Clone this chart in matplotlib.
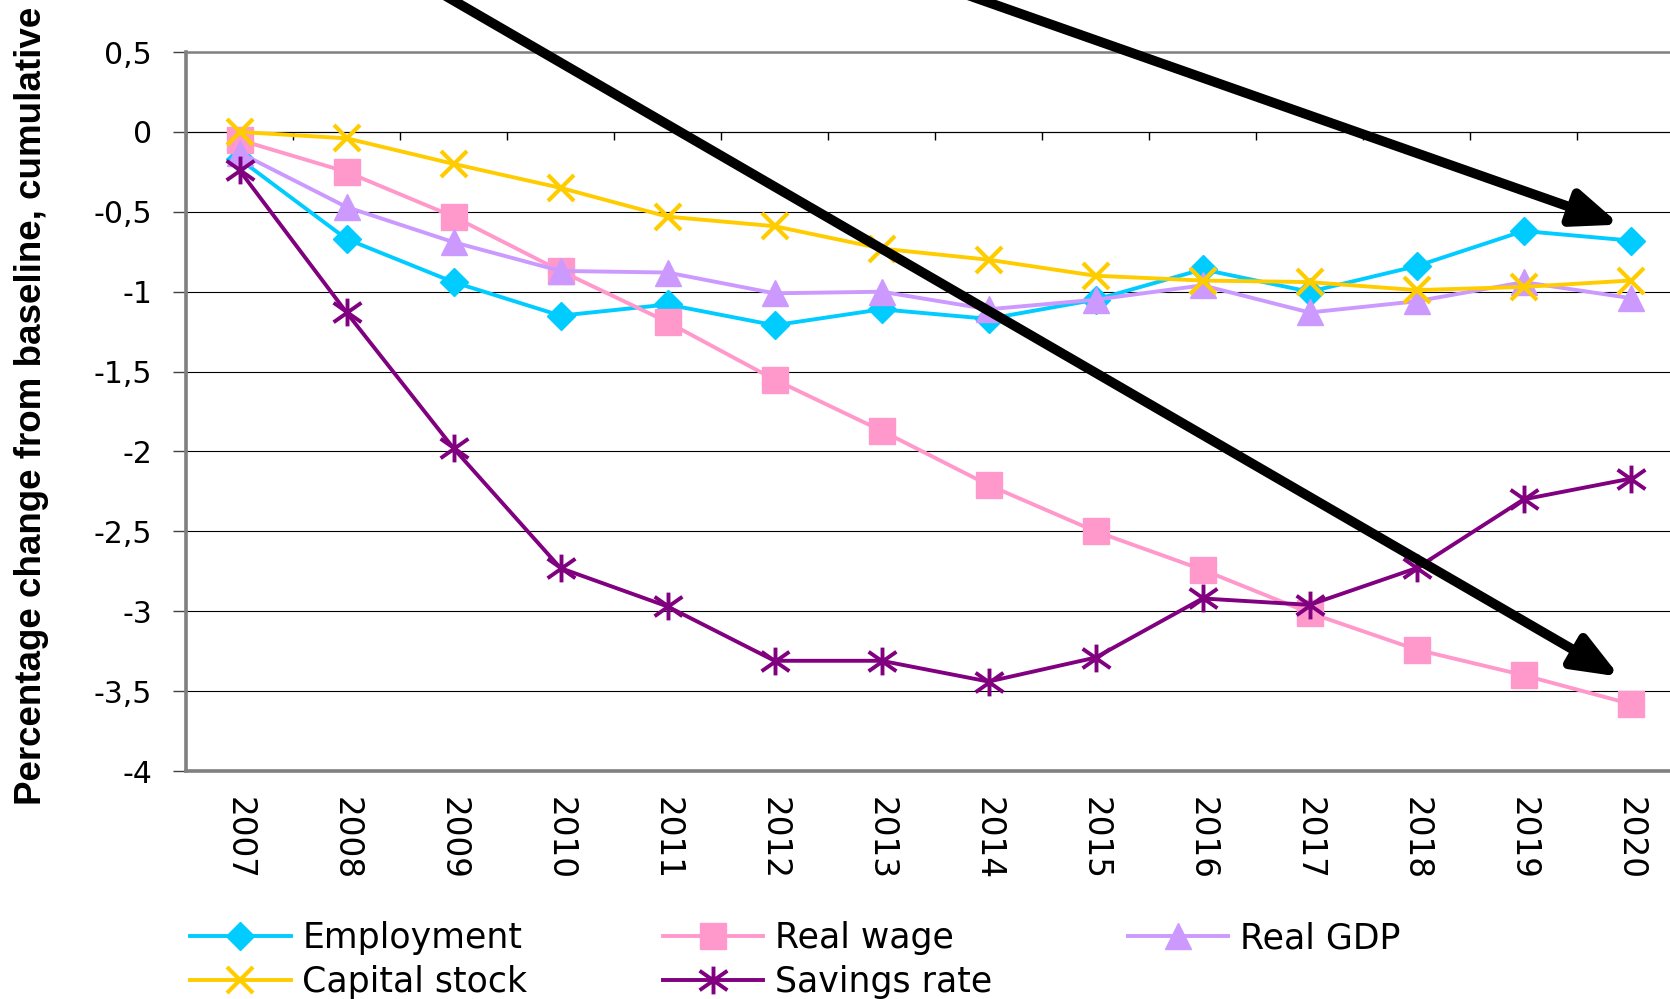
import numpy as np
import matplotlib
matplotlib.use('Agg')
import matplotlib.pyplot as plt
from matplotlib.path import Path
from matplotlib.ticker import FuncFormatter

# chart data
years = ['2007', '2008', '2009', '2010', '2011', '2012', '2013',
         '2014', '2015', '2016', '2017', '2018', '2019', '2020']
employment = [-0.17, -0.67, -0.94, -1.15, -1.08, -1.21, -1.11,
              -1.17, -1.05, -0.86, -1.00, -0.84, -0.62, -0.68]
real_wage = [-0.05, -0.25, -0.53, -0.87, -1.19, -1.55, -1.87,
             -2.21, -2.50, -2.74, -3.01, -3.24, -3.40, -3.58]
real_gdp = [-0.13, -0.47, -0.69, -0.87, -0.88, -1.01, -1.00,
            -1.11, -1.05, -0.96, -1.13, -1.06, -0.94, -1.04]
capital_stock = [0.00, -0.04, -0.20, -0.35, -0.53, -0.59, -0.73,
                 -0.80, -0.90, -0.93, -0.94, -0.99, -0.97, -0.93]
savings_rate = [-0.24, -1.13, -1.98, -2.73, -2.97, -3.31, -3.31,
                -3.44, -3.29, -2.92, -2.96, -2.73, -2.30, -2.17]

# annotation arrows: (start, tip) in (category index, value)
arrow_long = ((1.80, 0.90), (12.9, -3.41))
arrow_short = ((6.62, 0.90), (12.9, -0.58))

x = np.arange(len(years))

# Excel-like asterisk marker (X plus vertical bar)
star = Path([(-0.5, -0.35), (0.5, 0.35), (-0.5, 0.35), (0.5, -0.35), (0, -0.5), (0, 0.5)],
            [Path.MOVETO, Path.LINETO, Path.MOVETO, Path.LINETO, Path.MOVETO, Path.LINETO])

fig = plt.figure(figsize=(16.7, 9.99), dpi=100)
ax = fig.add_axes([0.1114, 0.2282, 0.897, 0.7197])

lw = 2.8
h_emp, = ax.plot(x, employment, color='#00CCFF', lw=lw, marker='D', ms=14,
                 mec='#00CCFF', label='Employment', zorder=3)
h_wage, = ax.plot(x, real_wage, color='#FF99CC', lw=lw, marker='s', ms=19,
                  mec='#FF99CC', label='Real wage', zorder=3)
h_gdp, = ax.plot(x, real_gdp, color='#CC99FF', lw=lw, marker='^', ms=19,
                 mec='#CC99FF', label='Real GDP', zorder=3)
h_cap, = ax.plot(x, capital_stock, color='#FFCC00', lw=lw, marker='x', ms=19,
                 mew=3, label='Capital stock', zorder=3)
h_sav, = ax.plot(x, savings_rate, color='#800080', lw=lw, marker=star, ms=20,
                 mew=2.8, mec='#800080', label='Savings rate', zorder=3)

ax.set_xlim(-0.5, 13.5)
ax.set_ylim(-4, 0.5)

# y axis
ax.set_yticks(np.arange(-4, 0.51, 0.5))
ax.yaxis.set_major_formatter(FuncFormatter(lambda v, p: f"{v:g}".replace('.', ',')))
ax.tick_params(axis='y', direction='out', length=9.5, width=1, color='#404040',
               pad=15, labelsize=21.5)
ax.yaxis.grid(True, color='black', lw=0.8)
ax.set_axisbelow(True)

# x axis labels at the bottom, rotated
ax.set_xticks(x)
ax.set_xticklabels(years, rotation=-90)
ax.tick_params(axis='x', length=0, pad=19, labelsize=23.5)

for s in ['left', 'bottom', 'top']:
    ax.spines[s].set_color('#808080')
ax.spines['left'].set_linewidth(2.6)
ax.spines['bottom'].set_linewidth(2.6)
ax.spines['top'].set_linewidth(1.8)
ax.spines['right'].set_visible(False)

# category tick marks on the zero line
sec = ax.secondary_xaxis(4 / 4.5)
sec.set_alignment('bottom')
sec.set_xticks(np.arange(-0.5, 13.6, 1))
sec.tick_params(axis='x', direction='out', length=6, width=1, color='black',
                labelbottom=False)
sec.spines['bottom'].set_color('black')
sec.spines['bottom'].set_linewidth(0.8)

# arrows
for start, tip in [arrow_long, arrow_short]:
    ax.annotate('', xy=tip, xytext=start, annotation_clip=False,
                arrowprops=dict(arrowstyle='-|>,head_length=0.55,head_width=0.22',
                                mutation_scale=50, lw=7, color='black',
                                shrinkA=0, shrinkB=0), zorder=5)

fig.text(0.019, 0.594, 'Percentage change from baseline, cumulative',
         rotation=90, ha='center', va='center', fontsize=26.5, fontweight='bold',
         family=['Liberation Sans', 'DejaVu Sans'])

fig.legend(handles=[h_emp, h_cap, h_wage, h_sav, h_gdp], ncol=3,
           loc='upper left', bbox_to_anchor=(190 / 1670, 0.078),
           frameon=False, fontsize=25, handlelength=2.9, handletextpad=0.33,
           columnspacing=3.9, labelspacing=0.3, borderpad=0, borderaxespad=0)

fig.savefig('out.png', dpi=100)
